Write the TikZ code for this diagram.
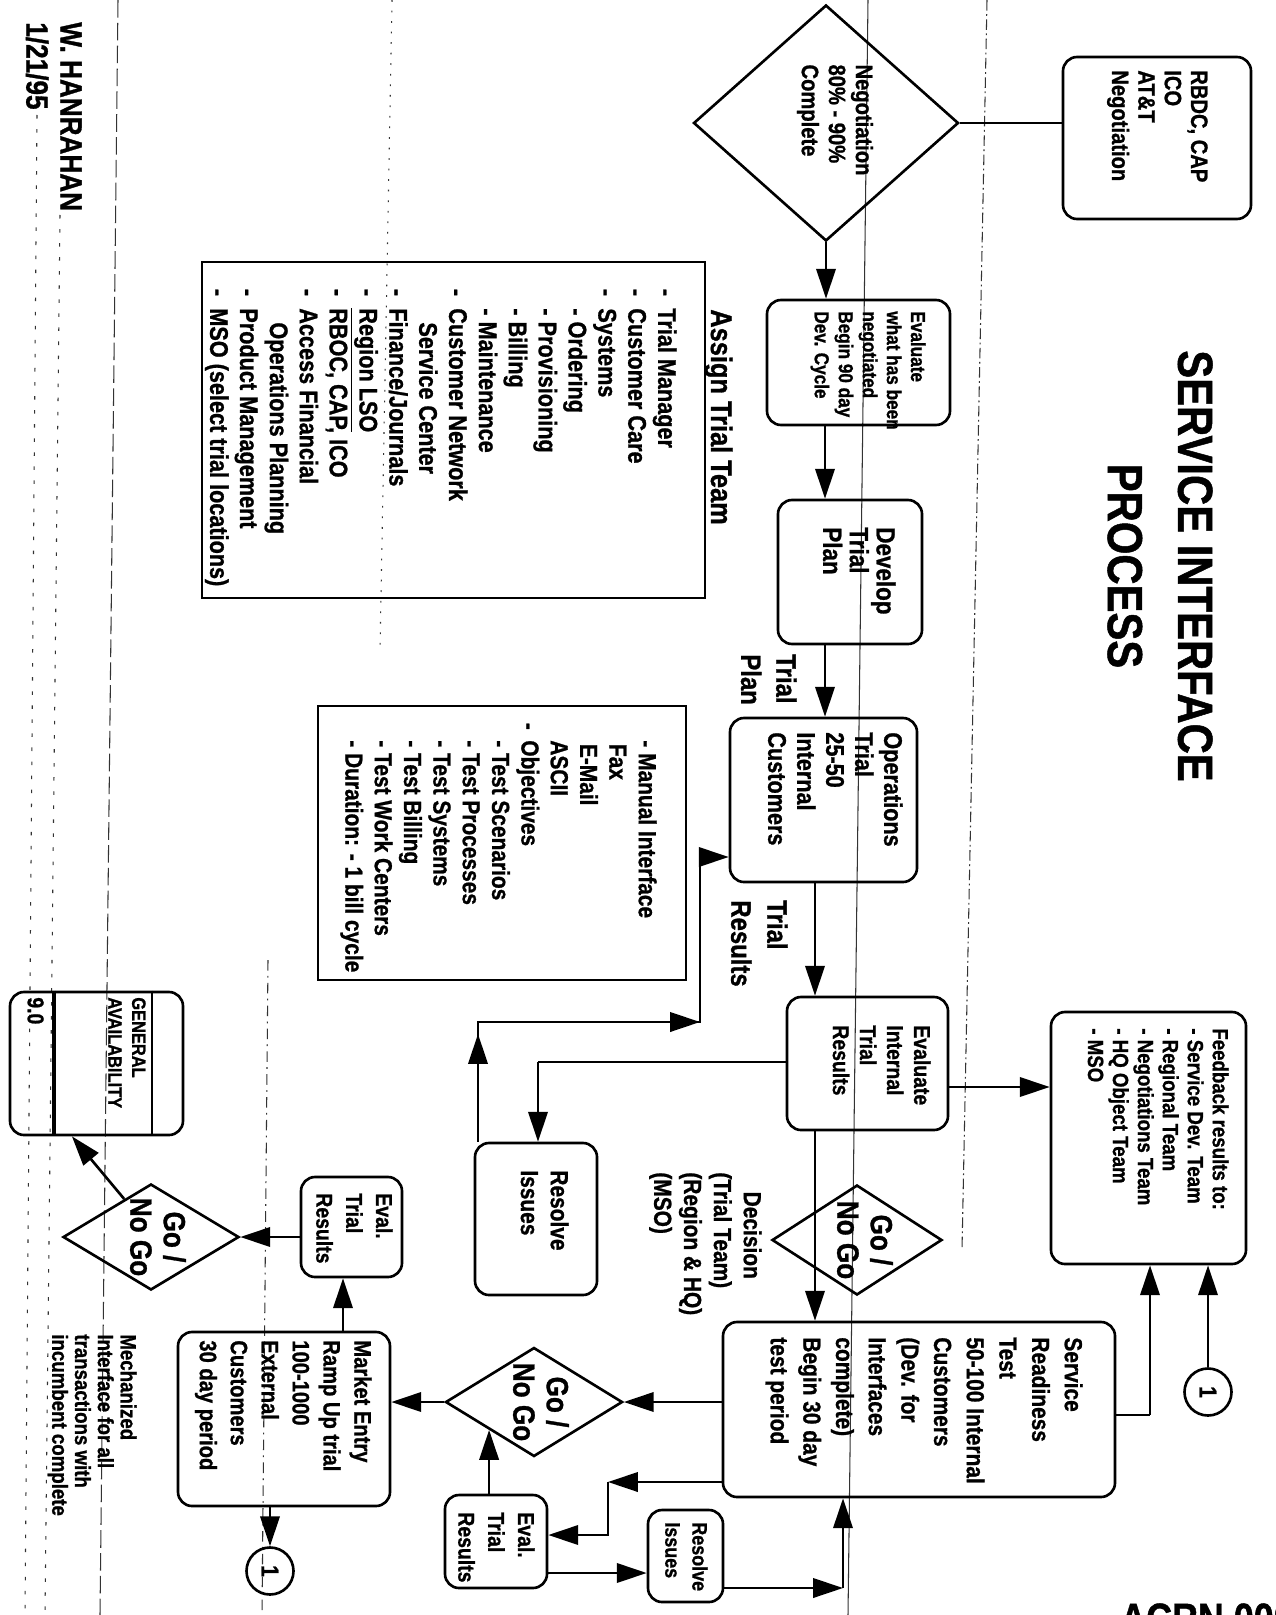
\documentclass[tikz,border=0pt]{standalone}
\usepackage{fontspec}
\newfontfamily\nf[FakeStretch=0.85, FakeBold=1]{Liberation Sans}
\usetikzlibrary{arrows.meta,shapes.geometric,calc}
\newcommand\dsh{\llap{-\hspace{7pt}}}
\begin{document}
\begin{tikzpicture}[x=0.02cm, y=-0.02cm,
  rot/.style={rotate=-90},
  yext/.style={minimum width=#1*0.02cm},
  xext/.style={minimum height=#1*0.02cm},
  bx/.style={rot, draw, line width=1.5pt, rounded corners=8pt, inner sep=0pt},
  sbx/.style={rot, draw, line width=1.4pt, inner sep=0pt},
  dia/.style={rot, diamond, draw, line width=1.5pt, inner sep=0pt},
  fsz/.style args={#1/#2}{font={\nf\bfseries\fontsize{#1}{#2}\selectfont}},
  txt/.style={rot, inner sep=0pt, align=left},
  cir/.style={rot, circle, draw, line width=1.5pt, minimum size=47*0.02cm, inner sep=0pt, fsz=14/16},
  ln/.style={line width=1.5pt},
  arr/.style={line width=1.5pt, -{Triangle[length=17pt,width=11pt]}},
  scan/.style={line width=0.6pt, black!80}
]
\fill[white] (0,0) rectangle (1275,1615);
\useasboundingbox (0,0) rectangle (1275,1615);

% scan artefact lines
\draw[scan] (868,0) -- (848,1615);
\draw[scan, dash pattern=on 6pt off 2pt on 1pt off 2pt] (987,0) -- (962,1250);
\draw[scan, dash pattern=on 10pt off 3pt] (118,0) -- (100,1615);
\draw[scan, dash pattern=on 2pt off 6pt] (60,215) -- (45,1615);
\draw[scan, dash pattern=on 2pt off 6pt] (37,115) -- (25,1615);
\draw[scan, dash pattern=on 6pt off 3pt on 1pt off 3pt] (268,960) -- (262,1615);
\draw[scan, dash pattern=on 1pt off 5pt] (392,0) -- (380,650);

% title and author
\node[txt, align=center, fsz=28/40] (title) at (1160,566) {SERVICE INTERFACE\\PROCESS};
\node[txt, fsz=17.5/19.4, anchor=north west] (auth) at (82,22) {W. HANRAHAN\\1/21/95};

% coordinates of main vertical flow
\coordinate (m1) at (825,0);
\coordinate (m2) at (815,0);

% RBDC negotiation
\node[bx, yext=162, xext=188] (rbdc) at (1157,138) {};
\node[txt, fsz=13.5/15, anchor=north west] (rbdct) at (1208,70) {RBDC, CAP\\ICO\\AT\&T\\Negotiation};

% negotiation diamond
\node[dia, yext=236, xext=265] (neg) at (826,123) {};
\node[txt, fsz=13.5/15.4] (negt) at (835,120) {Negotiation\\80\% - 90\%\\Complete};
\draw[ln] (neg.north) -- (neg.north -| rbdc.south);

% evaluate
\node[bx, yext=125, xext=183] (eval) at (858.5,362.5) {};
\node[txt, fsz=11.5/13.7, anchor=north west] (evalt) at (926,311) {Evaluate\\what has been\\negotiated\\Begin 90 day\\Dev. Cycle};
\draw[arr] (neg.east) -- (neg.east |- eval.west);

% develop
\node[bx, yext=144, xext=144] (dev) at (850,572) {};
\node[txt, fsz=15/15.2, anchor=north west] (devt) at (896,527) {Develop\\Trial\\Plan};
\draw[arr] (m1 |- eval.east) -- (m1 |- dev.west);

% assign trial team
\node[txt, fsz=17/20, anchor=north west] (asgl) at (733,309) {Assign Trial Team};
\node[sbx, yext=336, xext=503] (asg) at (453.5,430) {};
\node[txt, fsz=14.5/17, anchor=north west] (asgt) at (677,308) {\dsh Trial Manager\\\dsh Customer Care\\\dsh Systems\\- Ordering\\- Provisioning\\- Billing\\- Maintenance\\\dsh Customer Network\\\hspace*{8pt}Service Center\\\dsh Finance/Journals\\\dsh \underline{Region LSO}\\\dsh RBOC, CAP, ICO\\\dsh Access Financial\\\hspace*{8pt}Operations Planning\\\dsh Product Management\\\dsh MSO (select trial locations)};

% operations trial
\node[bx, yext=164, xext=187] (ops) at (823.5,800) {};
\node[txt, fsz=14.5/16.5, anchor=north west] (opst) at (903,732) {Operations\\Trial\\25-50\\Internal\\Customers};
\draw[arr] (m1 |- dev.east) -- (m1 |- ops.west);
\node[txt, fsz=16/20, anchor=north west] (tplan) at (797,654) {Trial\\Plan};

% manual interface box
\node[sbx, yext=274, xext=368] (man) at (502,843) {};
\node[txt, fsz=14/16.7, anchor=north west] (mant) at (657,740) {- Manual Interface\\\hspace*{2pt}Fax\\\hspace*{2pt}E-Mail\\ASCII\\\llap{-\hspace{6pt}}Objectives\\- Test Scenarios\\- Test Processes\\- Test Systems\\- Test Billing\\- Test Work Centers\\- Duration: - 1 bill cycle};

% evaluate internal trial results
\node[bx, yext=133, xext=161] (evi) at (867.5,1063.5) {};
\node[txt, fsz=13/15.4, anchor=north west] (evit) at (931,1025) {Evaluate\\Internal\\Trial\\Results};
\draw[arr] (m2 |- ops.east) -- (m2 |- evi.west);
\node[txt, fsz=16/20.5, anchor=north west] (tres) at (788,900) {Trial\\Results};

% feedback
\node[bx, yext=252, xext=195] (fb) at (1148.5,1138) {};
\node[txt, fsz=12.5/14.2, anchor=north west] (fbt) at (1229,1028) {Feedback results to:\\- Service Dev. Team\\- Regional Team\\- Negotiations Team\\- HQ Object Team\\- MSO};
\coordinate (c5) at (0,1087);
\draw[arr] (evi.north |- c5) -- (fb.south |- c5);

% connector circle 1 (top)
\node[cir] (c1n) at (1208,1392) {1};
\draw[arr] (c1n.west) -- (c1n.west |- fb.east);

% service readiness test
\node[bx, yext=175, xext=392] (sr) at (919,1409.5) {};
\node[txt, fsz=14/18.6, anchor=north west] (srt) at (1083,1337) {Service\\Readiness\\Test\\50-100 Internal\\Customers\\(Dev. for\\Interfaces\\complete)\\Begin 30 day\\test period};
\coordinate (c10) at (1150,1415);
\draw[ln] (sr.north |- c10) -- (c10);
\draw[arr] (c10) -- (c10 |- fb.east);

% go / no go 1
\node[dia, yext=110, xext=170] (g1) at (857,1240) {};
\node[txt, align=center, fsz=17.5/19] (g1t) at (865,1240) {Go /\\No Go};
\draw[arr] (m2 |- evi.east) -- (m2 |- sr.west);
\node[txt, fsz=14/17, anchor=north west] (dect) at (762,1172) {\hspace*{11pt}Decision\\(Trial Team)\\(Region \& HQ)\\(MSO)};

% resolve issues 1
\node[bx, yext=152, xext=122] (res1) at (536,1219) {};
\node[txt, fsz=14/17, anchor=north west] (res1t) at (569,1170) {Resolve\\Issues};
\coordinate (c6) at (538,1062);
\draw[ln] (evi.south |- c6) -- (c6);
\draw[arr] (c6) -- (c6 |- res1.west);
\coordinate (c7) at (478,1022);
\coordinate (c7a) at (478,1034);
\coordinate (c8) at (700,1022);
\coordinate (c9) at (700,857);
\draw[ln] (c7 |- res1.west) -- (c7) -- (c8) -- (c9);
\draw[arr] (c7 |- res1.west) -- (c7a);
\draw[arr] (c7) -- (c8);
\draw[arr] (c9) -- (c9 -| ops.south);

% general availability
\node[bx, yext=143, xext=173] (ga) at (96.5,1063.5) {};
\coordinate (gl1) at (152,0);
\coordinate (gl2) at (54,0);
\draw[line width=0.9pt] (gl1 |- ga.west) -- (gl1 |- ga.east);
\draw[line width=2pt] (gl2 |- ga.west) -- (gl2 |- ga.east);
\node[txt, fsz=11/13.6, anchor=north west] (gat) at (146,997) {GENERAL\\AVAILABILITY};
\node[txt, fsz=13/15, anchor=north west] (ga9) at (44,997) {9.0};

% go / no go 3
\node[dia, yext=106, xext=176] (g3) at (151,1237) {};
\node[txt, align=center, fsz=17.5/19] (g3t) at (158,1237) {Go /\\No Go};
\draw[arr] ($(g3.west)!0.3!(g3.south)$) -- ($(ga.south east)!0.36!(ga.north east)$);

% eval 2
\node[bx, yext=100, xext=101] (ev2) at (351.5,1227) {};
\node[txt, fsz=13/17, anchor=north west] (ev2t) at (393,1193) {Eval.\\Trial\\Results};
\draw[arr] (ev2.south |- g3.north) -- (g3.north);

% market entry
\node[bx, yext=174, xext=212] (me) at (284,1419) {};
\node[txt, fsz=13.5/17.6, anchor=north west] (met) at (372,1340) {Market Entry\\Ramp Up trial\\100-1000\\External\\Customers\\30 day period};
\coordinate (c12) at (343,0);
\draw[arr] (c12 |- me.west) -- (c12 |- ev2.east);
\node[cir] (c2n) at (270,1571) {1};
\draw[arr] (c2n.west |- me.east) -- (c2n.west);

% go / no go 2
\node[dia, yext=109, xext=177] (g2) at (534,1402) {};
\node[txt, align=center, fsz=17.5/19] (g2t) at (541,1402) {Go /\\No Go};
\draw[arr] (g2.south) -- (g2.south -| me.north);
\draw[arr] (sr.south |- g2.north) -- (g2.north);

% eval 3
\node[bx, yext=93, xext=102] (ev3) at (496,1541.5) {};
\node[txt, fsz=13/17, anchor=north west] (ev3t) at (535,1512) {Eval.\\Trial\\Results};
\draw[arr] (g2.south east |- ev3.west) -- (g2.south east);
\coordinate (c13) at (608,1482);
\coordinate (c14) at (608,1535);
\draw[arr] (c13 -| sr.south) -- (c13);
\draw[arr] (c13) -- (c14) -- (c14 -| ev3.north);

% resolve issues 2
\node[bx, yext=92, xext=75] (res2) at (685.5,1556) {};
\node[txt, fsz=12/15.4, anchor=north west] (res2t) at (708,1522) {Resolve\\Issues};
\coordinate (c15) at (0,1573);
\draw[arr] (c15 -| ev3.north) -- (c15 -| res2.south);
\coordinate (c16) at (843,1588);
\draw[arr] (c16 -| res2.north) -- (c16);
\draw[arr] (c16) -- (c16 |- sr.east);

% mechanized note
\node[txt, fsz=12.5/13, anchor=north west] (mech) at (137,1334) {Mechanized\\Interface for all\\transactions with\\incumbent complete};

% document number (cut at page edge)
\node[inner sep=0pt, anchor=north west, fsz=24/28] (acrn) at (1120,1603) {ACRN 000};
\end{tikzpicture}
\end{document}
